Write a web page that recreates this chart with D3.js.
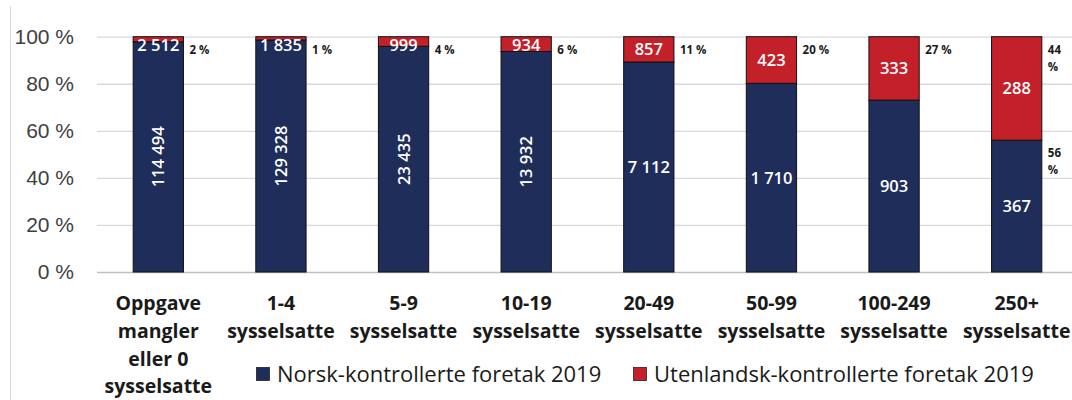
<!DOCTYPE html>
<html>
<head>
<meta charset="utf-8">
<style>
  body{ margin:0; background:#fff; }
  svg{ display:block; font-family:"Open Sans", "Noto Sans", sans-serif; }
</style>
<script src="https://d3js.org/d3.v7.min.js"></script>
</head>
<body>
<script>
// values
var categories = [
  ["Oppgave", "mangler", "eller 0", "sysselsatte"],
  ["1-4", "sysselsatte"],
  ["5-9", "sysselsatte"],
  ["10-19", "sysselsatte"],
  ["20-49", "sysselsatte"],
  ["50-99", "sysselsatte"],
  ["100-249", "sysselsatte"],
  ["250+", "sysselsatte"]
];
var norsk = [114494, 129328, 23435, 13932, 7112, 1710, 903, 367];
var utenlandsk = [2512, 1835, 999, 934, 857, 423, 333, 288];
var seriesNames = ["Norsk-kontrollerte foretak 2019", "Utenlandsk-kontrollerte foretak 2019"];
var yTicks = [0, 0.2, 0.4, 0.6, 0.8, 1];

var width = 1072, height = 400;
var blue = "#1f2d5b", red = "#c3202a";

var svg = d3.select("body").append("svg")
  .attr("width", width)
  .attr("height", height);

var nf = d3.formatLocale({decimal: ",", thousands: " ", grouping: [3], currency: ["", ""]}).format(",d");

var keys = categories.map(function(c, i){ return "c" + i; });
var x = d3.scaleBand().domain(keys).range([97, 1078]).paddingInner(0.59).paddingOuter(0.295);
var y = d3.scaleLinear().domain([0, 1]).range([272, 36.7]);

// chart frame left edge
svg.append("line")
  .attr("x1", 10.5).attr("x2", 10.5)
  .attr("y1", 6).attr("y2", height)
  .attr("stroke", "#d9d9d9");

// y axis + gridlines
var yAxis = svg.append("g")
  .attr("transform", "translate(97,0)")
  .call(d3.axisLeft(y).tickValues(yTicks).tickSize(-(width - 97)).tickPadding(23)
    .tickFormat(function(d){ return Math.round(d * 100) + " %"; }));
yAxis.select(".domain").remove();
yAxis.selectAll(".tick line")
  .attr("stroke", function(d){ return d === 0 ? "#bfbfbf" : "#d9d9d9"; })
  .attr("stroke-width", 1.3);
yAxis.selectAll(".tick text")
  .attr("fill", "#404040")
  .style("font-size", "21px");

var data = keys.map(function(k, i){
  var tot = norsk[i] + utenlandsk[i];
  return {key: k, i: i, n: norsk[i], u: utenlandsk[i], pn: norsk[i] / tot, pu: utenlandsk[i] / tot};
});

var bars = svg.append("g").selectAll("g").data(data).join("g");

// norsk segment
bars.append("rect")
  .attr("x", function(d){ return x(d.key); })
  .attr("width", x.bandwidth())
  .attr("y", function(d){ return y(d.pn); })
  .attr("height", function(d){ return y(0) - y(d.pn); })
  .attr("fill", blue)
  .attr("stroke", "#111")
  .attr("stroke-width", 1);

// utenlandsk segment
bars.append("rect")
  .attr("x", function(d){ return x(d.key); })
  .attr("width", x.bandwidth())
  .attr("y", y(1))
  .attr("height", function(d){ return y(d.pn) - y(1); })
  .attr("fill", red)
  .attr("stroke", "#111")
  .attr("stroke-width", 1);

// norsk value labels (vertical for the first four)
bars.append("text")
  .attr("transform", function(d){
    var cx = x(d.key) + x.bandwidth() / 2;
    var cy = (y(0) + y(d.pn)) / 2;
    return "translate(" + cx + "," + cy + ")" + (d.i < 4 ? " rotate(-90)" : "");
  })
  .attr("text-anchor", "middle")
  .attr("dy", "0.36em")
  .attr("fill", "#fff")
  .style("font-size", "16.5px")
  .style("font-weight", 600)
  .text(function(d){ return nf(d.n); });

// utenlandsk value labels
bars.append("text")
  .attr("x", function(d){ return x(d.key) + x.bandwidth() / 2; })
  .attr("y", function(d){ return Math.max((y(1) + y(d.pn)) / 2, y(1) + 8); })
  .attr("text-anchor", "middle")
  .attr("dy", "0.36em")
  .attr("fill", "#fff")
  .style("font-size", "16.5px")
  .style("font-weight", 600)
  .text(function(d){ return nf(d.u); });

// share labels to the right of the bars
function shareLabel(sel, pct, top, wrap){
  var t = sel.append("text")
    .attr("fill", "#1a1a1a")
    .style("font-size", "11.5px")
    .style("font-weight", 700);
  var lx = function(d){ return x(d.key) + x.bandwidth() + 6; };
  if (wrap) {
    t.append("tspan").attr("x", lx).attr("y", function(d){ return top(d) + 17; }).text(function(d){ return Math.round(pct(d) * 100); });
    t.append("tspan").attr("x", lx).attr("y", function(d){ return top(d) + 34; }).text("%");
  } else {
    t.attr("x", lx).attr("y", function(d){ return top(d) + 17; })
      .text(function(d){ return Math.round(pct(d) * 100) + " %"; });
  }
}
bars.filter(function(d){ return d.i < 7; }).call(shareLabel, function(d){ return d.pu; }, function(){ return y(1); }, false);
bars.filter(function(d){ return d.i === 7; }).call(shareLabel, function(d){ return d.pu; }, function(){ return y(1); }, true);
bars.filter(function(d){ return d.i === 7; }).call(shareLabel, function(d){ return d.pn; }, function(d){ return y(d.pn); }, true);

// category labels
var xl = svg.append("g").selectAll("text").data(data).join("text")
  .attr("text-anchor", "middle")
  .attr("fill", "#1a1a1a")
  .style("font-size", "19.5px")
  .style("font-weight", 700);
xl.selectAll("tspan").data(function(d){ return categories[d.i].map(function(s){ return {s: s, k: d.key}; }); })
  .join("tspan")
  .attr("x", function(t){ return x(t.k) + x.bandwidth() / 2; })
  .attr("y", function(t, j){ return 310 + j * 27.8; })
  .text(function(t){ return t.s; });

// legend
var legendX = [256, 633];
var leg = svg.append("g").selectAll("g").data(seriesNames).join("g")
  .attr("transform", function(d, i){ return "translate(" + legendX[i] + ",0)"; });
leg.append("rect")
  .attr("x", 0.5).attr("y", 367.5)
  .attr("width", 13).attr("height", 13)
  .attr("fill", function(d, i){ return i === 0 ? blue : red; })
  .attr("stroke", "#222")
  .attr("stroke-width", 0.8);
leg.append("text")
  .attr("x", 21)
  .attr("y", 382)
  .attr("fill", "#1a1a1a")
  .style("font-size", "22px")
  .text(function(d){ return d; });
</script>
</body>
</html>
